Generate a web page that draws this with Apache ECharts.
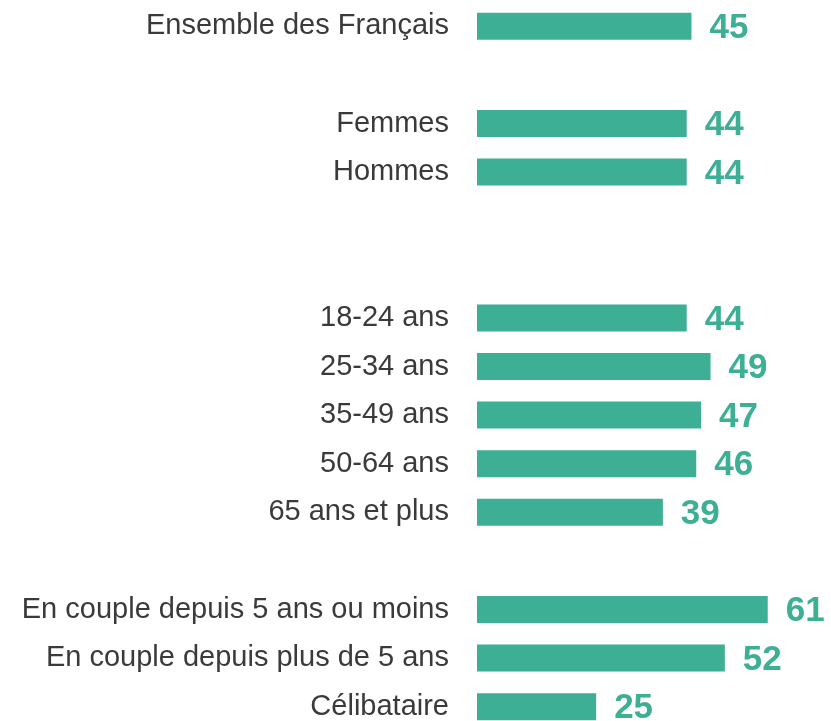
<!DOCTYPE html>
<html>
<head>
<meta charset="utf-8">
<style>
  html, body { margin: 0; padding: 0; background: #fff; overflow: hidden; }
  #chart { width: 831px; height: 740px; }
</style>
<script src="https://cdn.jsdelivr.net/npm/echarts@6/dist/echarts.min.js"></script>
</head>
<body>
<div id="chart"></div>
<script>
// rows, top to bottom; blank rows are the gaps between groups
const categories = [
  "Ensemble des Français", " ",
  "Femmes", "Hommes", "  ", "   ",
  "18-24 ans", "25-34 ans", "35-49 ans", "50-64 ans", "65 ans et plus", "    ",
  "En couple depuis 5 ans ou moins", "En couple depuis plus de 5 ans", "Célibataire"
];
const values = [45, null, 44, 44, null, null, 44, 49, 47, 46, 39, null, 61, 52, 25];

const barColor = "#3daf94";

// the last row sits on the bottom edge, so the chart is a bit taller than the window
let chart = echarts.init(document.getElementById("chart"));

let option = {
  animation: false,
  textStyle: { fontFamily: "Liberation Sans, Arial, sans-serif" },
  grid: { left: 477, right: 18, top: 2, height: 729 },
  xAxis: {
    type: "value",
    min: 0,
    max: 70.5,
    show: false,
  },
  yAxis: {
    type: "category",
    data: categories,
    inverse: true,
    axisLine: { show: false },
    axisTick: { show: false },
    axisLabel: {
      margin: 28,
      fontSize: 29,
      color: "#3a3a3a",
      fontFamily: "Liberation Sans, Arial, sans-serif",
    },
  },
  series: [
    {
      type: "bar",
      data: values,
      barWidth: 27,
      itemStyle: { color: barColor },
      label: {
        show: true,
        position: "right",
        distance: 18,
        offset: [0, 2],
        color: barColor,
        fontSize: 35,
        fontWeight: "bold",
        fontFamily: "Liberation Sans, Arial, sans-serif",
      },
    },
  ],
};

chart.setOption(option);
</script>
</body>
</html>
